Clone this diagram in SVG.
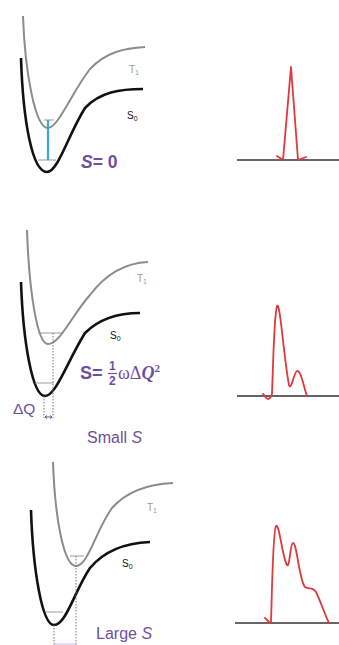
<svg xmlns="http://www.w3.org/2000/svg" width="339" height="645" viewBox="0 0 339 645">
<style>
.t1{fill:none;stroke:#8c8c8c;stroke-width:2}
.s0{fill:none;stroke:#111;stroke-width:2.6}
.lvl{fill:none;stroke:#9a9a9a;stroke-width:1}
.dot{fill:none;stroke:#777;stroke-width:1;stroke-dasharray:1.5 1.5}
.base{fill:none;stroke:#333;stroke-width:1.4}
.spec{fill:none;stroke:#e0383c;stroke-width:1.8;stroke-linejoin:round;stroke-linecap:round}
.lt{font-family:"Liberation Sans",Arial,sans-serif;font-size:10px}
.pur{font-family:"Liberation Sans",Arial,sans-serif;fill:#6e4f9e}
</style>
<rect width="339" height="645" fill="#fff"/>
<g id="panel1">
<path class="t1" d="M23,16 C25,72 35,128 48,128 C58,128 72,92 90,69 C106,52 125,48 145,47"/>
<path class="s0" d="M21,58 C23,120 32,172 47,172 C58,172 68,135 85,108 C100,92 120,89 143,89"/>
<path class="lvl" d="M44,120 H54 M38,160 H56"/>
<path d="M48,120 V160" fill="none" stroke="#3aa6d8" stroke-width="2.2"/>
<text class="lt" x="129" y="73" fill="#999">T<tspan font-size="7" dy="2">1</tspan></text>
<text class="lt" x="127" y="119" fill="#111">S<tspan font-size="7" dy="2">0</tspan></text>
<text class="pur" x="81" y="168" font-size="17.5" font-weight="bold"><tspan font-style="italic">S</tspan>= 0</text>
</g>
<g id="spectrum1">
<path class="base" d="M237,160 H339"/>
<path class="spec" d="M283,160 L291,67 L298,160 M277,156 L283,160 M298,160 L306,157"/>
</g>
<g id="panel2">
<path class="t1" d="M27,230 C29,290 37,344 48,344 C60,344 72,315 90,295 C105,275 125,263 148,262"/>
<path class="s0" d="M21,282 C23,340 32,396 45,396 C56,396 68,360 85,333 C100,318 120,313 140,313"/>
<path class="lvl" d="M38,333 H62 M35,383 H54"/>
<path class="dot" d="M53,333 V418 M44,396 V418"/>
<path d="M45,417 H52 M45,417 l2,-1.5 M45,417 l2,1.5 M52,417 l-2,-1.5 M52,417 l-2,1.5" fill="none" stroke="#6e4f9e" stroke-width="1"/>
<text class="lt" x="137" y="282" fill="#999">T<tspan font-size="7" dy="2">1</tspan></text>
<text class="lt" x="110" y="339" fill="#111">S<tspan font-size="7" dy="2">0</tspan></text>
<text class="pur" x="80" y="379" font-size="18" font-weight="bold">S=</text>
<text class="pur" x="109" y="370" font-size="12" font-weight="bold">1</text>
<path d="M108,373.5 H117" stroke="#6e4f9e" stroke-width="1.2"/>
<text class="pur" x="109" y="385" font-size="12" font-weight="bold">2</text>
<text class="pur" x="118" y="379" font-size="18" style="font-family:'Liberation Serif',serif">ωΔ<tspan font-weight="bold" font-style="italic">Q</tspan><tspan font-size="11" dy="-7" font-weight="bold">2</tspan></text>
<text class="pur" x="13" y="414" font-size="15.5">ΔQ</text>
<text class="pur" x="87" y="443" font-size="16">Small <tspan font-style="italic">S</tspan></text>
</g>
<g id="spectrum2">
<path class="base" d="M237,396 H339"/>
<path class="spec" d="M263,394 C265,396 266,399 268,399 C270,399 271,397 272,394 C273,370 274,315 277,306 C280,300 284,360 289,385 C291,392 294,372 297,371 C301,370 304,388 307,396"/>
</g>
<g id="panel3">
<path class="t1" d="M53,462 C55,520 64,566 76,566 C88,566 96,530 112,508 C128,490 150,484 173,483"/>
<path class="s0" d="M31,510 C33,570 42,625 54,625 C66,625 75,590 90,568 C105,550 125,543 150,542"/>
<path class="lvl" d="M70,556 H84 M46,612 H63"/>
<path class="dot" d="M76,556 V645 M54,625 V645"/>
<path d="M54,644 H76" fill="none" stroke="#c9b6e6" stroke-width="1"/>
<text class="lt" x="147" y="511" fill="#999">T<tspan font-size="7" dy="2">1</tspan></text>
<text class="lt" x="122" y="567" fill="#111">S<tspan font-size="7" dy="2">0</tspan></text>
<text class="pur" x="96" y="639" font-size="16">Large <tspan font-style="italic">S</tspan></text>
</g>
<g id="spectrum3">
<path class="base" d="M235,623 H339"/>
<path class="spec" d="M265,618 L270,623 M271,623 C272,590 273,530 276,526 C279,522 283,560 287,565 C290,568 290,543 293,543 C297,543 299,580 305,587 C309,590 312,586 316,592 C320,600 325,615 329,623"/>
</g>
</svg>
